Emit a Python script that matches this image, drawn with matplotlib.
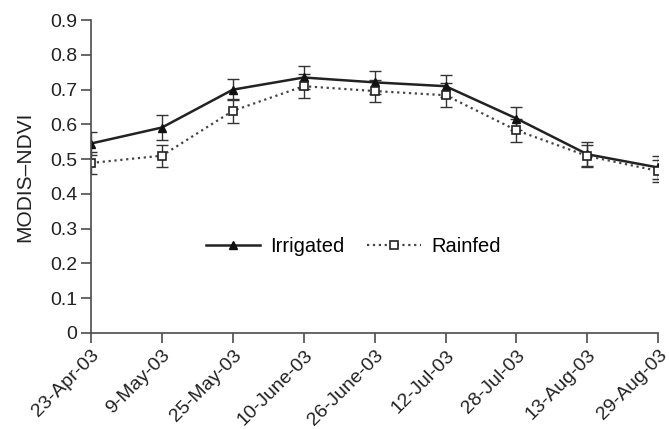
import numpy as np
import matplotlib
matplotlib.use('Agg')
import matplotlib.pyplot as plt

plt.rcParams['font.family'] = ['Liberation Sans', 'DejaVu Sans']

dates = ['23-Apr-03', '9-May-03', '25-May-03', '10-June-03', '26-June-03',
         '12-Jul-03', '28-Jul-03', '13-Aug-03', '29-Aug-03']
irrigated = [0.545, 0.591, 0.700, 0.735, 0.721, 0.710, 0.617, 0.514, 0.476]
irrigated_err = [0.033, 0.035, 0.031, 0.033, 0.033, 0.032, 0.032, 0.034, 0.034]
rainfed = [0.489, 0.510, 0.639, 0.710, 0.696, 0.684, 0.583, 0.509, 0.466]
rainfed_err = [0.032, 0.032, 0.034, 0.034, 0.031, 0.034, 0.033, 0.033, 0.032]

x = np.arange(len(dates))
grey = '#4d4d4d'
txt = '#222222'

fig = plt.figure(figsize=(6.69, 4.29), dpi=100)
ax = fig.add_axes([0.136, 0.224, 0.848, 0.729])

ax.errorbar(x, irrigated, yerr=irrigated_err, fmt='none', ecolor='#333333',
            elinewidth=1, capsize=4, capthick=1)
ax.errorbar(x, rainfed, yerr=rainfed_err, fmt='none', ecolor='#333333',
            elinewidth=1, capsize=4, capthick=1)
ax.plot(x, irrigated, '-', color='#222222', lw=1.8, marker='^', ms=6,
        mfc='#111111', mec='#111111', label='Irrigated')
ax.plot(x, rainfed, ':', color='#444444', lw=1.6, marker='s', ms=6,
        mfc='white', mec='#222222', mew=1.2, label='Rainfed')

ax.set_xlim(0, 8)
ax.set_ylim(0, 0.9)
ax.set_yticks(np.arange(0, 0.91, 0.1))
ax.set_yticklabels(['0'] + ['%.1f' % v for v in np.arange(0.1, 0.91, 0.1)])
ax.set_xticks(x)
ax.set_xticklabels(dates, rotation=45, ha='right', va='top', rotation_mode='anchor',
                   fontsize=14)
ax.set_ylabel('MODIS\u2013NDVI', fontsize=15, color=txt)
ax.yaxis.set_label_coords(-0.1, 0.5)

for s in ['top', 'right']:
    ax.spines[s].set_visible(False)
for s in ['left', 'bottom']:
    ax.spines[s].set_color(grey)
    ax.spines[s].set_linewidth(1.2)
ax.tick_params(axis='both', direction='out', length=7, width=1.2, color=grey,
               labelcolor=txt)
ax.tick_params(axis='y', pad=3, labelsize=14)
ax.tick_params(axis='x', pad=3)

ax.legend(loc='center', bbox_to_anchor=(0.462, 0.276), ncol=2, frameon=False,
          fontsize=14.5, handlelength=2.7, columnspacing=1.1, handletextpad=0.5)

fig.savefig('out.png', dpi=100)
